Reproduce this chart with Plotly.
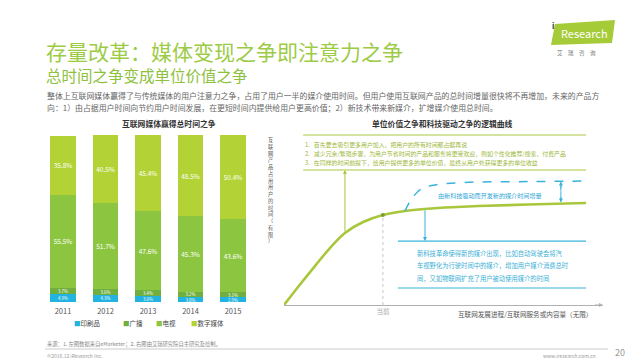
import plotly.graph_objects as go

W, H = 640, 360
FONT = "Noto Sans CJK SC"


def px(x):
    return x / W


def py(y):
    return 1 - y / H


# ---------------- data: left chart ----------------
years = ['2011', '2012', '2013', '2014', '2015']
print_share = [4.9, 4.3, 3.6, 3.0, 2.9]
radio_share = [3.7, 3.6, 3.4, 3.2, 3.1]
tv_share = [55.5, 51.7, 47.6, 45.3, 43.6]
digital_share = [35.8, 40.5, 45.4, 48.5, 50.4]
series_names = ['印刷品', '广播', '电视', '数字媒体']
series_colors = ['#22B3E0', '#6FAE3F', '#8CC540', '#B3D235']
label_sizes = [4.3, 4.3, 6.5, 6.5]

# ---------------- data: right chart (conceptual curve) ----------------
curve_x = [0, 4.4, 9.7, 14.4, 19.1, 24.8, 31.0, 37.9, 48.3, 60.8, 76.5, 94.7]
curve_y = [0, 10.6, 22.9, 33.5, 42.4, 48.8, 52.9, 55.3, 57.1, 58.2, 59.1, 60.0]
new_tech_x = [37.9, 39.8, 42.9, 47.3, 56.7, 76.5, 94.7]
new_tech_y = [55.3, 61.8, 68.2, 70.6, 72.1, 72.6, 72.9]
current_idx = 6
current_label = '当前'

GREEN_LINE = '#A9C73C'
BLUE_LINE = '#3AB3DC'

fig = go.Figure()

for name, vals, col, ls in zip(series_names,
                               [print_share, radio_share, tv_share, digital_share],
                               series_colors, label_sizes):
    fig.add_trace(go.Bar(
        x=years, y=vals, name=name,
        marker=dict(color=col, line=dict(width=0)),
        text=[f'{v:.1f}%' for v in vals],
        textposition='inside', insidetextanchor='middle', constraintext='none',
        textfont=dict(color='white', size=ls, family=FONT),
        xaxis='x', yaxis='y', showlegend=False, hoverinfo='skip'))

# main curve
fig.add_trace(go.Scatter(
    x=curve_x, y=curve_y, mode='lines', line=dict(color=GREEN_LINE, width=2.6, shape='spline'),
    xaxis='x2', yaxis='y2', showlegend=False, hoverinfo='skip'))
# new-tech dashed curve
fig.add_trace(go.Scatter(
    x=new_tech_x, y=new_tech_y, mode='lines',
    line=dict(color=BLUE_LINE, width=1.5, dash='dash', shape='spline'),
    xaxis='x2', yaxis='y2', showlegend=False, hoverinfo='skip'))
# current point
fig.add_trace(go.Scatter(
    x=[curve_x[current_idx]], y=[curve_y[current_idx]], mode='markers',
    marker=dict(color='#7E9B2E', size=4),
    xaxis='x2', yaxis='y2', showlegend=False, hoverinfo='skip'))

shapes = []
# top (green) box lines
for yv in (100, 79.4):
    shapes.append(dict(type='line', xref='x2', yref='y2', x0=6.0, x1=94.7, y0=yv, y1=yv,
                       line=dict(color=GREEN_LINE, width=1.2)))
# bottom (blue) box lines
for yv in (37.6, 10.0):
    shapes.append(dict(type='line', xref='x2', yref='y2', x0=35.7, x1=94.7, y0=yv, y1=yv,
                       line=dict(color=BLUE_LINE, width=1.2)))
# current drop line
shapes.append(dict(type='line', xref='x2', yref='y2',
                   x0=curve_x[current_idx], x1=curve_x[current_idx],
                   y0=0, y1=curve_y[current_idx],
                   line=dict(color='#C8C8C8', width=1, dash='dot')))
# dashed blue double-arrow line
shapes.append(dict(type='line', xref='x2', yref='y2', x0=86.8, x1=86.8, y0=61.5, y1=71.5,
                   line=dict(color=BLUE_LINE, width=1, dash='dot')))
# footer rule
shapes.append(dict(type='line', xref='paper', yref='paper', x0=px(37), x1=px(600),
                   y0=py(341), y1=py(341), line=dict(color='#BDBDBD', width=0.8)))
# logo shape
logo_path = 'M {} {} L {} {} L {} {} L {} {} Z'.format(
    px(543), py(37), px(547), py(16), px(607), py(12), px(604), py(35))
shapes.append(dict(type='path', xref='paper', yref='paper', path=logo_path,
                   fillcolor='#A6CB38', line=dict(width=0)))

ann = []


def text(x, y, s, size, color, anchor='left', yanchor='middle', bold=False, **kw):
    if bold:
        s = f'<b>{s}</b>'
    ann.append(dict(x=px(x), y=py(y), xref='paper', yref='paper', text=s, showarrow=False,
                    xanchor=anchor, yanchor=yanchor,
                    font=dict(size=size, color=color, family=FONT), **kw))


# titles
text(36, 43, '存量改革：媒体变现之争即注意力之争', 21, '#9CCB45')
text(36, 67, '总时间之争变成单位价值之争', 15.5, '#8DC13E')
text(37, 87, '整体上互联网媒体赢得了与传统媒体的用户注意力之争，占用了用户一半的媒介使用时间。但用户使用互联网产品的总时间增量很快将不再增加，未来的产品方',
     7.9, '#666666')
text(37, 99, '向：1）由占据用户时间向节约用户时间发展，在更短时间内提供给用户更高价值；2）新技术带来新媒介，扩增媒介使用总时间。',
     7.9, '#666666')
text(161, 116, '互联网媒体赢得总时间之争', 7.8, '#333333', anchor='center', bold=True)
text(434, 116, '单位价值之争和科技驱动之争的逻辑曲线', 7.8, '#333333', anchor='center', bold=True)

# legend (manual)
legend_x = [64, 113, 146, 181]
for lx, name, col in zip(legend_x, series_names, series_colors):
    text(lx, 315, f'<span style="color:{col}">■</span>{name}', 6.5, '#444444')

# right chart texts
box_lines = [
    '1.   首先要去吸引更多用户加入，把用户的所有时间都占据再说',
    '2.   减少冗余/繁琐步骤，为用户节省时间的产品和服务将更受欢迎，例如个性化推荐/搜索、付费产品',
    '3.   在同样的时间前提下，给用户提供更多的单位价值，最终从用户处获得更多的单位收益',
]
for i, s in enumerate(box_lines):
    text(295, 136 + 9 * i, s, 5.9, '#9DB83A')

text(428, 187, '由新科技驱动而开发新的媒介时间增量', 6.1, '#2EA6D6')

blue_lines = [
    '新科技革命使得新的媒介出现，比如自动驾驶会将汽',
    '车视野化为行驶时间中的媒介，增加用户媒介消费总时',
    '间，又如物联网扩充了用户被动使用媒介的时间',
]
for i, s in enumerate(blue_lines):
    text(407, 245 + 12.5 * i, s, 6.3, '#3AAFD6')

text(586, 306, '互联网发展进程/互联网服务或内容量（无限）', 6.6, '#555555', anchor='right')
ylabel = '互联网产品占用用户的时间（有限）'
text(262, 182, '<br>'.join(list(ylabel)), 5.2, '#555555', anchor='center')

# arrows
arrow_common = dict(xref='x2', yref='y2', axref='x2', ayref='y2', showarrow=True, text='',
                    arrowhead=2, arrowsize=0.8, arrowwidth=1)
ann.append(dict(x=19.1, y=79.4, ax=19.1, ay=42.4, arrowcolor=GREEN_LINE, **arrow_common))
ann.append(dict(x=44.2, y=37.6, ax=44.2, ay=56.5, arrowcolor=BLUE_LINE, **arrow_common))
ann.append(dict(x=86.8, y=72.6, ax=86.8, ay=66, arrowcolor=BLUE_LINE, **arrow_common))
ann.append(dict(x=86.8, y=60.3, ax=86.8, ay=66, arrowcolor=BLUE_LINE, **arrow_common))
ann.append(dict(x=100, y=0, ax=97, ay=0, arrowcolor='#B0B0B0', **arrow_common))

# logo text
text(576, 25, 'Research', 11, 'white', anchor='center')
text(545, 17, 'i', 8, '#333333', anchor='center', bold=True)
text(568, 45, '艾　瑞　咨　询', 5.5, '#777777', anchor='center')

# footer
text(37, 336, '来源：1. 左图数据来自eMarketer；2. 右图由艾瑞研究院自主研究及绘制。', 5.3, '#888888')
text(37, 347, '©2016.12 iResearch Inc.', 5.0, '#999999')
text(590, 347, 'www.iresearch.com.cn', 5.0, '#999999', anchor='right')
text(612, 344, '20', 9, '#999999', anchor='center')

fig.update_layout(
    width=W, height=H, autosize=False,
    margin=dict(l=0, r=0, t=0, b=0),
    paper_bgcolor='white', plot_bgcolor='white',
    barmode='stack', bargap=0.39,
    font=dict(family=FONT),
    xaxis=dict(domain=[px(33.75), px(246.25)], anchor='y', showline=False, showgrid=False,
               zeroline=False, ticks='', ticklabelstandoff=3,
               tickfont=dict(size=7.5, color='#555555', family=FONT),
               fixedrange=True),
    yaxis=dict(domain=[py(294), py(127)], anchor='x', range=[0, 100.2], visible=False),
    xaxis2=dict(domain=[px(276), px(595)], anchor='y2', range=[0, 100], showline=True,
                linecolor='#B0B0B0', linewidth=1, showgrid=False, zeroline=False, ticks='',
                tickvals=[curve_x[current_idx]], ticktext=[current_label],
                tickfont=dict(size=6.5, color='#AAAAAA', family=FONT)),
    yaxis2=dict(domain=[py(297), py(118.5)], anchor='x2', range=[0, 105], visible=False),
    shapes=shapes,
    annotations=ann,
)

fig.write_html('out.html')
